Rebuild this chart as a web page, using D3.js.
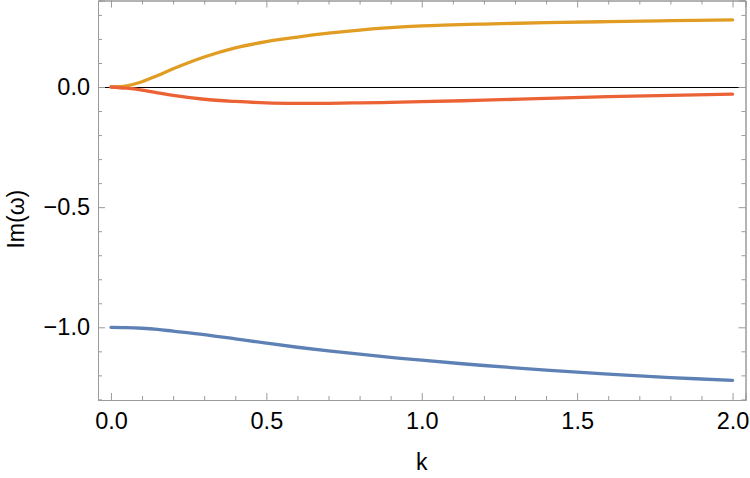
<!DOCTYPE html>
<html>
<head>
<meta charset="utf-8">
<script src="https://cdn.jsdelivr.net/npm/d3@7"></script>
<style>
  body { margin: 0; background: #fff; }
  svg { display: block; font-family: "Liberation Sans", Arial, sans-serif; }
</style>
</head>
<body>
<div id="chart"></div>
<script>
// ── data ──────────────────────────────────────────────────
const kValues = [0, 0.05, 0.1, 0.15, 0.2, 0.3, 0.4, 0.5, 0.6, 0.7, 0.8, 0.9, 1.0, 1.2, 1.4, 1.6, 1.8, 2.0];
const imBlue   = [-1.0, -1.001, -1.004, -1.009, -1.016, -1.030, -1.048, -1.066, -1.083, -1.098, -1.112, -1.125, -1.137, -1.159, -1.178, -1.195, -1.209, -1.221];
const imOrange = [0, 0.005, 0.022, 0.048, 0.076, 0.125, 0.163, 0.189, 0.208, 0.224, 0.237, 0.247, 0.254, 0.262, 0.268, 0.272, 0.276, 0.279];
const imRed    = [0, -0.005, -0.013, -0.024, -0.035, -0.051, -0.060, -0.066, -0.068, -0.068, -0.066, -0.064, -0.061, -0.055, -0.047, -0.040, -0.035, -0.030];

const xMajor = [0, 0.5, 1.0, 1.5, 2.0];
const yMajor = [-1.0, -0.5, 0.0];
const xMinor = d3.range(0, 21).map(i => i / 10);
const yMinor = d3.range(-13, 4).map(i => i / 10);

const series = [
    { values: imBlue,   color: "#5E81B5" },
    { values: imOrange, color: "#E19C24" },
    { values: imRed,    color: "#EB6235" },
];

// ── layout ───────────────────────────────────────────────
const W = 750, H = 478;
const m = { left: 98, right: 4.5, top: 0.5, bottom: 78 };
const iw = W - m.left - m.right, ih = H - m.top - m.bottom;

const x = d3.scaleLinear().domain([-0.0417, 2.0417]).range([0, iw]);
const y = d3.scaleLinear().domain([-1.3025, 0.36]).range([ih, 0]);

const svg = d3.select("#chart").append("svg").attr("width", W).attr("height", H);
const g = svg.append("g").attr("transform", `translate(${m.left},${m.top})`);

const frameColor = "#9a9a9a";
const fmt = d3.format(".1f");
const minus = s => s.replace("-", "\u2212");

// zero line (nudged onto a pixel row so it stays crisp)
g.append("line")
    .attr("x1", 0).attr("x2", iw)
    .attr("y1", y(0) + 0.5).attr("y2", y(0) + 0.5)
    .attr("stroke", "#000").attr("stroke-width", 1);

// curves
const line = d3.line().curve(d3.curveCatmullRom.alpha(0.5));
series.forEach(s => {
    g.append("path")
        .attr("d", line(kValues.map((k, i) => [x(k), y(s.values[i])])))
        .attr("fill", "none")
        .attr("stroke", s.color)
        .attr("stroke-width", 3.3)
        .attr("stroke-linecap", "round");
});

// ── frame axes ───────────────────────────────────────────
function frameAxis(axisFn, scale, major, minor, transform) {
    const minorOnly = minor.filter(v => !major.some(mj => Math.abs(mj - v) < 1e-9));
    const a = g.append("g").attr("transform", transform);
    a.call(axisFn(scale).tickValues(minorOnly).tickSize(4).tickFormat(""));
    const b = g.append("g").attr("transform", transform);
    b.call(axisFn(scale).tickValues(major).tickSize(7).tickFormat(""));
    [a, b].forEach(ax => {
        ax.selectAll(".domain").attr("stroke", frameColor);
        ax.selectAll(".tick line").attr("stroke", frameColor);
        ax.selectAll(".tick text").remove();
    });
}

frameAxis(d3.axisTop, x, xMajor, xMinor, `translate(0,${ih})`);
frameAxis(d3.axisBottom, x, xMajor, xMinor, `translate(0,0)`);
frameAxis(d3.axisRight, y, yMajor, yMinor, `translate(0,0)`);
frameAxis(d3.axisLeft, y, yMajor, yMinor, `translate(${iw},0)`);

// tick labels
const xb = g.append("g").attr("transform", `translate(0,${ih})`);
xb.call(d3.axisBottom(x).tickValues(xMajor).tickSize(0).tickPadding(12).tickFormat(d => fmt(d)));
xb.select(".domain").attr("stroke", frameColor);
xb.selectAll(".tick text").attr("fill", "#000").style("font-size", "23.5px");

const yl = g.append("g");
yl.call(d3.axisLeft(y).tickValues(yMajor).tickSize(0).tickPadding(8).tickFormat(d => minus(fmt(d))));
yl.select(".domain").attr("stroke", frameColor);
yl.selectAll(".tick text").attr("fill", "#000").style("font-size", "23.5px");

// axis titles
svg.append("text")
    .attr("x", m.left + x(1.0)).attr("y", 470)
    .attr("text-anchor", "middle")
    .style("font-size", "23px")
    .text("k");

svg.append("text")
    .attr("transform", `translate(24,${m.top + y(-0.55)}) rotate(-90)`)
    .attr("text-anchor", "middle")
    .style("font-size", "23px")
    .text("Im(ω)");
</script>
</body>
</html>
